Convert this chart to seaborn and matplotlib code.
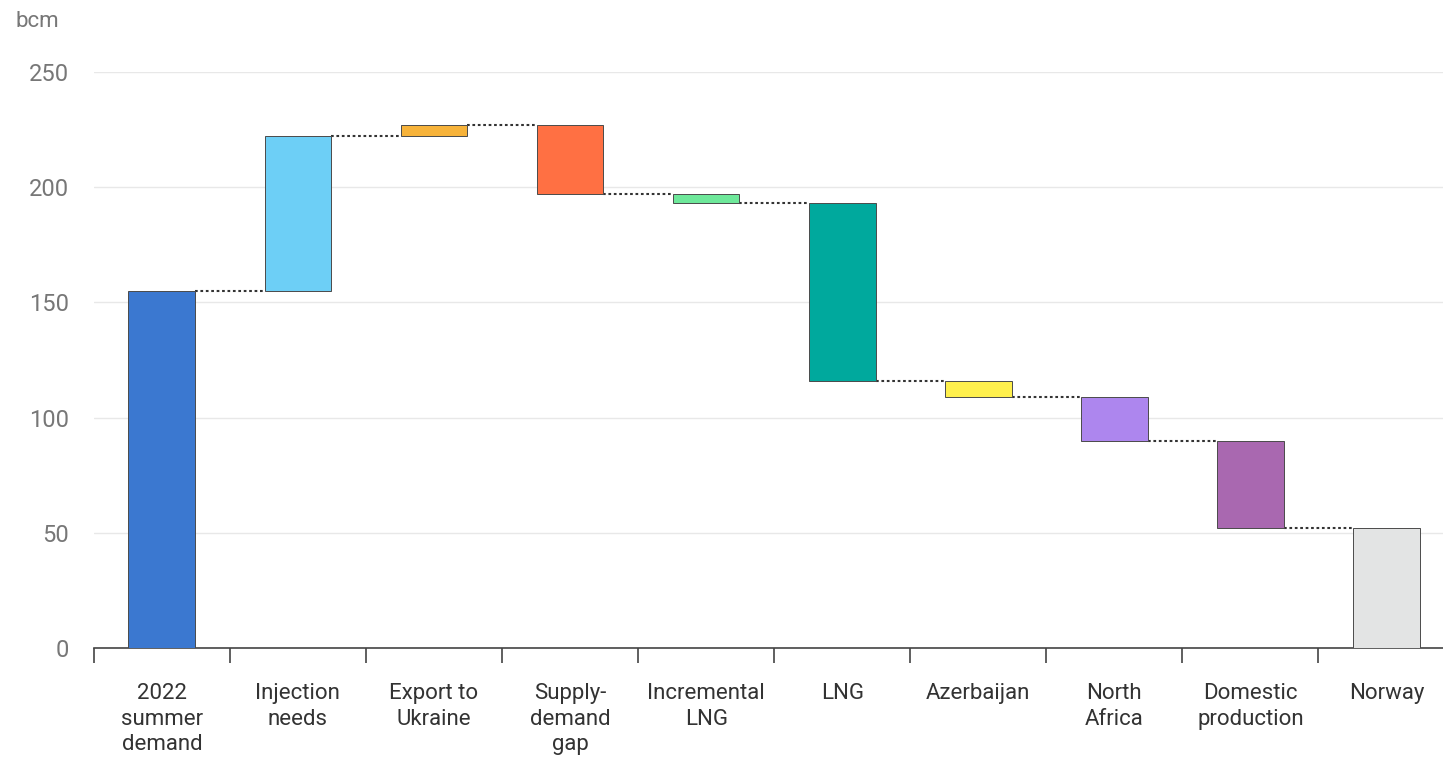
import numpy as np
import pandas as pd
import matplotlib
matplotlib.use("Agg")
import matplotlib.pyplot as plt
import seaborn as sns

# waterfall data (bcm)
categories = ["2022\nsummer\ndemand", "Injection\nneeds", "Export to\nUkraine", "Supply-\ndemand\ngap",
              "Incremental\nLNG", "LNG", "Azerbaijan", "North\nAfrica", "Domestic\nproduction", "Norway"]
start_total = 155
steps = [67, 5, -30, -4, -77, -7, -19, -38]
colors = ["#3b78d0", "#6dcff6", "#f7b33a", "#ff7043", "#6ee89a", "#00a99d", "#fff04d", "#ad86ee", "#a968b0", "#e3e4e4"]

# running levels
levels = np.concatenate([[start_total], start_total + np.cumsum(steps)])
bottoms = [0] + [min(levels[i], levels[i + 1]) for i in range(len(steps))] + [0]
heights = [start_total] + [abs(s) for s in steps] + [levels[-1]]

df = pd.DataFrame({"cat": categories, "height": heights})

sns.set_style("white")
plt.rcParams["font.family"] = ["Roboto", "DejaVu Sans"]

fig = plt.figure(figsize=(14.43, 7.63), dpi=100)
ax = fig.add_axes([0.065, 0.1507, 0.943, 0.755])

bw = 0.49
sns.barplot(data=df, x="cat", y="height", hue="cat", palette=colors, legend=False, saturation=1,
            width=bw, edgecolor="#4a4a4a", linewidth=0.7, ax=ax, zorder=3)
for patch, b in zip(ax.patches, bottoms):
    patch.set_y(b)

# dotted connectors
for i in range(len(levels)):
    ax.plot([i + bw / 2, i + 1 - bw / 2], [levels[i], levels[i]], ls=(0, (1.3, 1.3)),
            color="#333333", lw=1.5, zorder=2)

ax.set_xlim(-0.5, len(categories) - 0.5)
ax.set_ylim(0, 250)
ax.set_yticks([0, 50, 100, 150, 200, 250])
ax.yaxis.grid(True, color="#e8e8e8", lw=1)
ax.set_axisbelow(True)
for s in ["top", "right", "left"]:
    ax.spines[s].set_visible(False)
ax.spines["bottom"].set_color("#444444")
ax.spines["bottom"].set_linewidth(1.2)

ax.set_xlabel("")
ax.set_ylabel("")
ax.tick_params(axis="y", length=0, pad=18, labelsize=17, labelcolor="#777777")
ax.tick_params(axis="x", which="major", length=0, pad=25, labelsize=16, labelcolor="#333333")
ax.set_xticks(np.arange(-0.5, len(categories), 1.0), minor=True)
ax.tick_params(axis="x", which="minor", bottom=True, direction="out", length=11, width=1.2, color="#444444")
for lab in ax.get_xticklabels():
    lab.set_linespacing(1.3)

fig.text(0.011, 0.972, "bcm", fontsize=16, color="#777777", va="center", ha="left")

fig.savefig("out.png", dpi=100)
